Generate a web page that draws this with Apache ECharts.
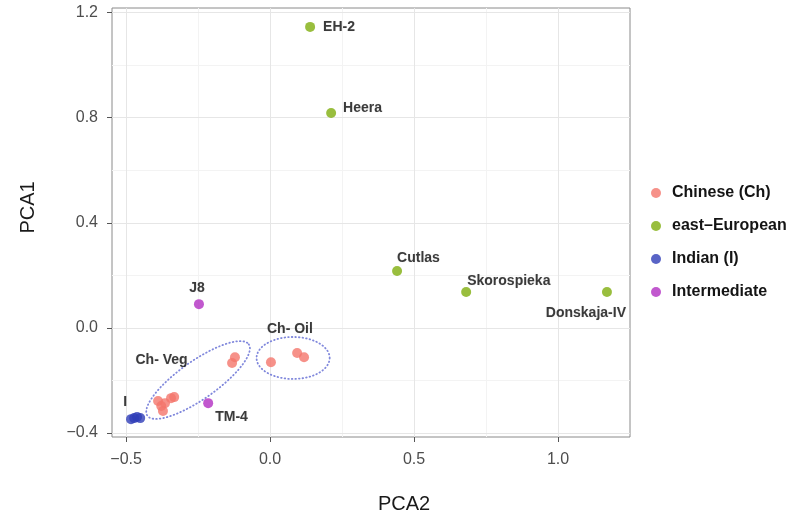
<!DOCTYPE html>
<html>
<head>
<meta charset="utf-8">
<script src="https://cdn.jsdelivr.net/npm/echarts@6/dist/echarts.min.js"></script>
<style>
html,body{margin:0;padding:0;background:#fff;}
#chart{width:797px;height:519px;}
</style>
</head>
<body>
<div id="chart"></div>
<script>
// ---- data ----
const categories = ['Chinese (Ch)', 'east\u2013European', 'Indian (I)', 'Intermediate'];

const chineseX = [-0.389, -0.378, -0.372, -0.365, -0.344, -0.333, -0.122, -0.132, 0.003, 0.094, 0.118];
const chineseY = [-0.279, -0.298, -0.317, -0.287, -0.268, -0.264, -0.112, -0.134, -0.131, -0.096, -0.112];

const eastNames = ['EH-2', 'Heera', 'Cutlas', 'Skorospieka', 'Donskaja-IV'];
const eastX = [0.139, 0.212, 0.441, 0.681, 1.170];
const eastY = [1.146, 0.818, 0.216, 0.136, 0.136];

const indianX = [-0.483, -0.472, -0.462, -0.451];
const indianY = [-0.348, -0.344, -0.340, -0.344];

const interNames = ['J8', 'TM-4'];
const interX = [-0.247, -0.215];
const interY = [0.090, -0.287];

const xTicks = [-0.5, 0.0, 0.5, 1.0];
const yTicks = [-0.4, 0.0, 0.4, 0.8, 1.2];
const xMinorGrid = [-0.25, 0.25, 0.75];
const yMinorGrid = [-0.2, 0.2, 0.6, 1.0];

const annotText = ['Ch- Veg', 'Ch- Oil', 'I'];
const annotX = [-0.377, 0.069, -0.503];
const annotY = [-0.123, -0.005, -0.283];

// ellipse annotations (data units): center, major semi-axis vector, minor semi-axis vector
const ellipseCx = [-0.250, 0.080];
const ellipseCy = [-0.199, -0.115];
const ellipseMajor = [[0.176, 0.136], [0.127, 0.0]];
const ellipseMinor = [[0.038, -0.059], [0.0, 0.080]];

// ---- styles ----
const colors = ['#F4766B', '#80AE0E', '#2F3DB8', '#B12EC2'];
const labelPlace = {
  'EH-2': ['left', 13, 0],
  'Heera': ['left', 12, -5],
  'Cutlas': ['left', 0, -13],
  'Skorospieka': ['left', 1, -11],
  'Donskaja-IV': ['right', 19, 21],
  'J8': ['center', -2, -16],
  'TM-4': ['left', 7, 14]
};
const FONT = '"Liberation Sans", Arial, Helvetica, sans-serif';
const labelFont = { fontFamily: FONT, fontWeight: 'bold', fontSize: 14, color: '#141414',
  textShadowColor: 'rgba(0,0,0,0.25)', textShadowBlur: 1 };

function pts(xs, ys, names) {
  return xs.map((x, i) => {
    const item = { value: [x, ys[i]] };
    if (names) {
      const n = names[i];
      const p = labelPlace[n];
      item.name = n;
      item.label = Object.assign({ show: true, position: 'inside', align: p[0],
        verticalAlign: 'middle', offset: [p[1], p[2]], formatter: n }, labelFont);
    }
    return item;
  });
}

const fmt = v => {
  const s = Math.abs(v).toFixed(1);
  return v < -1e-9 ? '\u2212' + s : s;
};

const chart = echarts.init(document.getElementById('chart'), null, { renderer: 'canvas' });

const scatterBase = { type: 'scatter', symbol: 'circle', symbolSize: 10, z: 4 };

const option = {
  animation: false,
  backgroundColor: '#ffffff',
  grid: { left: 112, right: 167, top: 8, bottom: 82, show: true,
    borderColor: '#8a8a8a', borderWidth: 1, backgroundColor: 'transparent', containLabel: false },
  xAxis: {
    type: 'value', min: -0.549, max: 1.25,
    name: 'PCA2', nameLocation: 'middle', nameGap: 57,
    nameTextStyle: { fontFamily: FONT, fontSize: 20, color: '#1a1a1a', padding: [0, 0, 0, 66] },
    axisLine: { show: false, onZero: false },
    axisTick: { show: true, customValues: xTicks, length: 5, lineStyle: { color: '#555', width: 1 } },
    axisLabel: { customValues: xTicks, formatter: fmt, margin: 15, fontFamily: FONT, fontSize: 16, color: '#4d4d4d' },
    splitLine: { show: false }
  },
  yAxis: {
    type: 'value', min: -0.416, max: 1.218,
    name: 'PCA1', nameLocation: 'middle', nameGap: 74, nameRotate: 90,
    nameTextStyle: { fontFamily: FONT, fontSize: 20, color: '#1a1a1a', padding: [0, 0, 0, 30] },
    axisLine: { show: false, onZero: false },
    axisTick: { show: true, customValues: yTicks, length: 5, lineStyle: { color: '#555', width: 1 } },
    axisLabel: { customValues: yTicks, formatter: fmt, margin: 14, fontFamily: FONT, fontSize: 16, color: '#4d4d4d' },
    splitLine: { show: false }
  },
  legend: {
    data: categories,
    orient: 'vertical', left: 646, top: 180,
    itemWidth: 22, itemHeight: 10, itemGap: 17, icon: 'circle',
    textStyle: { fontFamily: FONT, fontWeight: 'bold', fontSize: 16, color: '#141414' }
  },
  series: [
    {
      name: 'gridlines', type: 'scatter', data: [], z: 0, silent: true,
      markLine: {
        silent: true, symbol: 'none', animation: false, label: { show: false }, z: 0, zlevel: 0,
        data: [].concat(
          xMinorGrid.map(v => ({ xAxis: v, lineStyle: { color: '#f3f3f3', width: 1, type: 'solid' } })),
          yMinorGrid.map(v => ({ yAxis: v, lineStyle: { color: '#f3f3f3', width: 1, type: 'solid' } })),
          xTicks.map(v => ({ xAxis: v, lineStyle: { color: '#e6e6e6', width: 1, type: 'solid' } })),
          yTicks.map(v => ({ yAxis: v, lineStyle: { color: '#e6e6e6', width: 1, type: 'solid' } }))
        )
      }
    },
    {
      name: 'ellipses', type: 'custom', coordinateSystem: 'cartesian2d', z: 2, silent: true,
      data: ellipseCx.map((c, i) => [c, ellipseCy[i]]),
      renderItem: function (params, api) {
        const i = params.dataIndex;
        const cx = ellipseCx[i], cy = ellipseCy[i];
        const M = ellipseMajor[i], m = ellipseMinor[i];
        const points = [];
        const N = 120;
        for (let k = 0; k <= N; k++) {
          const t = 2 * Math.PI * k / N;
          const x = cx + M[0] * Math.cos(t) + m[0] * Math.sin(t);
          const y = cy + M[1] * Math.cos(t) + m[1] * Math.sin(t);
          points.push(api.coord([x, y]));
        }
        return {
          type: 'polyline',
          shape: { points: points },
          style: { fill: null, stroke: '#8088dc', lineWidth: 1.8, lineDash: [0.6, 3], lineCap: 'round' }
        };
      }
    },
    Object.assign({}, scatterBase, { name: categories[0], itemStyle: { color: colors[0] }, data: pts(chineseX, chineseY) }),
    Object.assign({}, scatterBase, { name: categories[1], itemStyle: { color: colors[1] }, data: pts(eastX, eastY, eastNames) }),
    Object.assign({}, scatterBase, { name: categories[2], itemStyle: { color: colors[2] }, data: pts(indianX, indianY) }),
    Object.assign({}, scatterBase, { name: categories[3], itemStyle: { color: colors[3] }, data: pts(interX, interY, interNames) }),
    {
      name: 'annotations', type: 'scatter', symbolSize: 0, z: 5, silent: true,
      data: annotX.map((x, i) => ({ value: [x, annotY[i]], name: annotText[i] })),
      label: Object.assign({ show: true, position: 'inside', align: 'center', verticalAlign: 'middle',
        formatter: p => p.name }, labelFont)
    }
  ]
};

chart.setOption(option);
</script>
</body>
</html>
